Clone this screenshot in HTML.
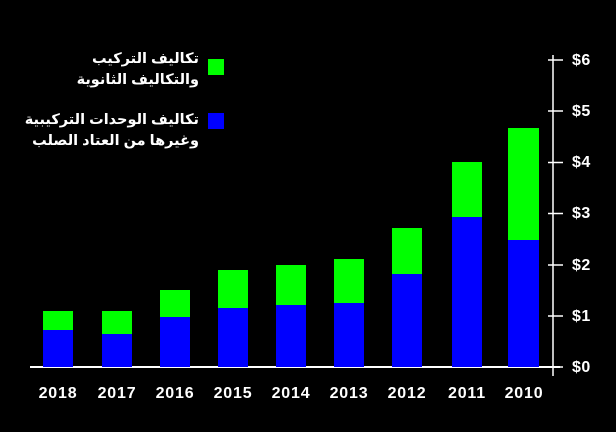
<!DOCTYPE html>
<html><head><meta charset="utf-8"><style>
html,body{margin:0;padding:0;background:#000;width:616px;height:432px;overflow:hidden}
</style></head><body>
<svg width="616" height="432" xmlns="http://www.w3.org/2000/svg" style="display:block">
<rect width="616" height="432" fill="#000"/>
<g font-family="Liberation Sans, sans-serif" font-weight="bold" font-size="15" fill="#fff">
<line x1="30" y1="367" x2="560" y2="367" stroke="#fff" stroke-width="2"/>
<line x1="553" y1="55" x2="553" y2="376" stroke="#fff" stroke-width="1.5"/>
<g stroke="#fff" stroke-width="1.5">
<line x1="548" y1="60" x2="563" y2="60"/><line x1="548" y1="111" x2="563" y2="111"/>
<line x1="548" y1="162.5" x2="563" y2="162.5"/><line x1="548" y1="213.5" x2="563" y2="213.5"/>
<line x1="548" y1="265" x2="563" y2="265"/><line x1="548" y1="316" x2="563" y2="316"/>
<line x1="548" y1="367" x2="563" y2="367"/></g>
<g font-size="16" letter-spacing="0.5">
<text x="572" y="65">$6</text><text x="572" y="116">$5</text><text x="572" y="167">$4</text>
<text x="572" y="218">$3</text><text x="572" y="270">$2</text><text x="572" y="321">$1</text><text x="572" y="372">$0</text></g>
<g fill="#00ff00">
<rect x="43" y="311" width="30" height="20"/><rect x="102" y="311" width="30" height="24"/>
<rect x="160" y="290" width="30" height="28"/><rect x="218" y="270" width="30" height="39"/>
<rect x="276" y="265" width="30" height="41"/><rect x="334" y="259" width="30" height="45"/>
<rect x="392" y="228" width="30" height="47"/><rect x="452" y="162" width="30" height="56"/>
<rect x="508" y="128" width="31" height="113"/></g>
<g fill="#0000ff">
<rect x="43" y="330" width="30" height="37"/><rect x="102" y="334" width="30" height="33"/>
<rect x="160" y="317" width="30" height="50"/><rect x="218" y="308" width="30" height="59"/>
<rect x="276" y="305" width="30" height="62"/><rect x="334" y="303" width="30" height="64"/>
<rect x="392" y="274" width="30" height="93"/><rect x="452" y="217" width="30" height="150"/>
<rect x="508" y="240" width="31" height="127"/></g>
<g text-anchor="middle" font-size="16" letter-spacing="0.8">
<text x="58" y="398">2018</text><text x="117" y="398">2017</text><text x="175" y="398">2016</text>
<text x="233" y="398">2015</text><text x="291" y="398">2014</text><text x="349" y="398">2013</text>
<text x="407" y="398">2012</text><text x="467" y="398">2011</text><text x="524" y="398">2010</text></g>
<rect x="208" y="59" width="16" height="16" fill="#00ff00"/>
<rect x="208" y="113" width="16" height="16" fill="#0000ff"/>
<g text-anchor="end" font-family="Liberation Sans, Noto Sans CJK SC, DejaVu Sans, sans-serif" font-size="14.5">
<text x="199" y="63">تكاليف التركيب</text>
<text x="199" y="84">والتكاليف الثانوية</text>
<text x="199" y="124">تكاليف الوحدات التركيبية</text>
<text x="199" y="145">وغيرها من العتاد الصلب</text>
</g></g>
</svg>
</body></html>
